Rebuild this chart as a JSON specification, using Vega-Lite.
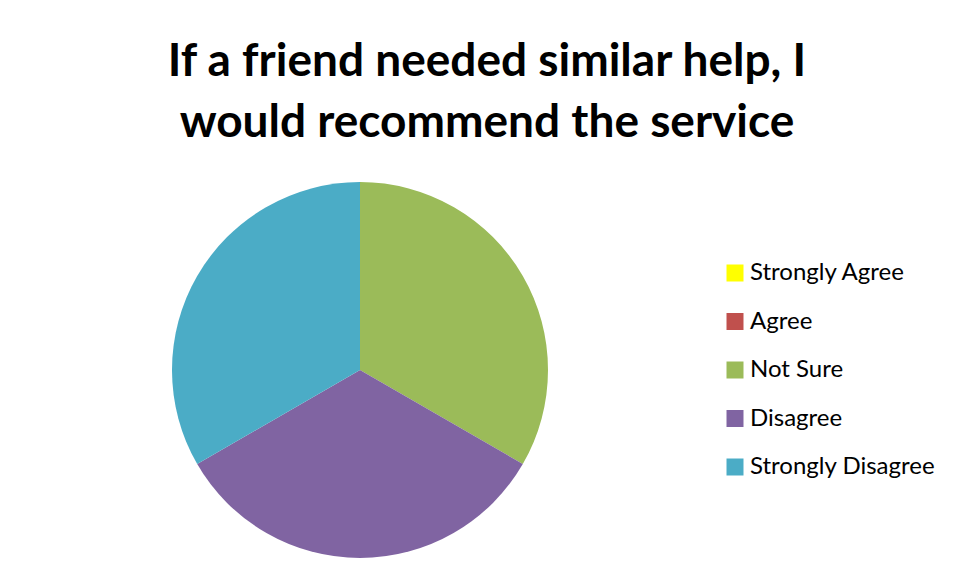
{
  "$schema": "https://vega.github.io/schema/vega-lite/v6.json",
  "width": 376,
  "height": 376,
  "autosize": {"type": "none"},
  "padding": {"left": 172, "top": 182, "right": 407, "bottom": 21},
  "background": "white",
  "config": {"view": {"stroke": null}},
  "title": {
    "text": ["If a friend needed similar help, I", "would recommend the service"],
    "font": "Lato",
    "fontWeight": "bold",
    "fontSize": 46,
    "lineHeight": 61,
    "color": "black",
    "anchor": "middle",
    "dx": 127,
    "offset": 35
  },
  "data": {
    "values": [
      {"response": "Strongly Agree", "count": 0, "order": 1},
      {"response": "Agree", "count": 0, "order": 2},
      {"response": "Not Sure", "count": 1, "order": 3},
      {"response": "Disagree", "count": 1, "order": 4},
      {"response": "Strongly Disagree", "count": 1, "order": 5}
    ]
  },
  "mark": {"type": "arc", "radius": 188},
  "encoding": {
    "theta": {"field": "count", "type": "quantitative", "stack": true},
    "order": {"field": "order", "type": "quantitative"},
    "color": {
      "field": "response",
      "type": "nominal",
      "sort": ["Strongly Agree", "Agree", "Not Sure", "Disagree", "Strongly Disagree"],
      "scale": {
        "domain": ["Strongly Agree", "Agree", "Not Sure", "Disagree", "Strongly Disagree"],
        "range": ["#FFFF00", "#C0504D", "#9BBB59", "#8064A2", "#4BACC6"]
      },
      "legend": {
        "title": null,
        "orient": "none",
        "legendX": 551,
        "legendY": 79,
        "symbolType": "square",
        "symbolSize": 289,
        "symbolStrokeWidth": 0,
        "labelFont": "Lato",
        "labelFontSize": 24,
        "labelColor": "black",
        "labelOffset": 3,
        "rowPadding": 24.5,
        "labelLimit": 400
      }
    }
  }
}
